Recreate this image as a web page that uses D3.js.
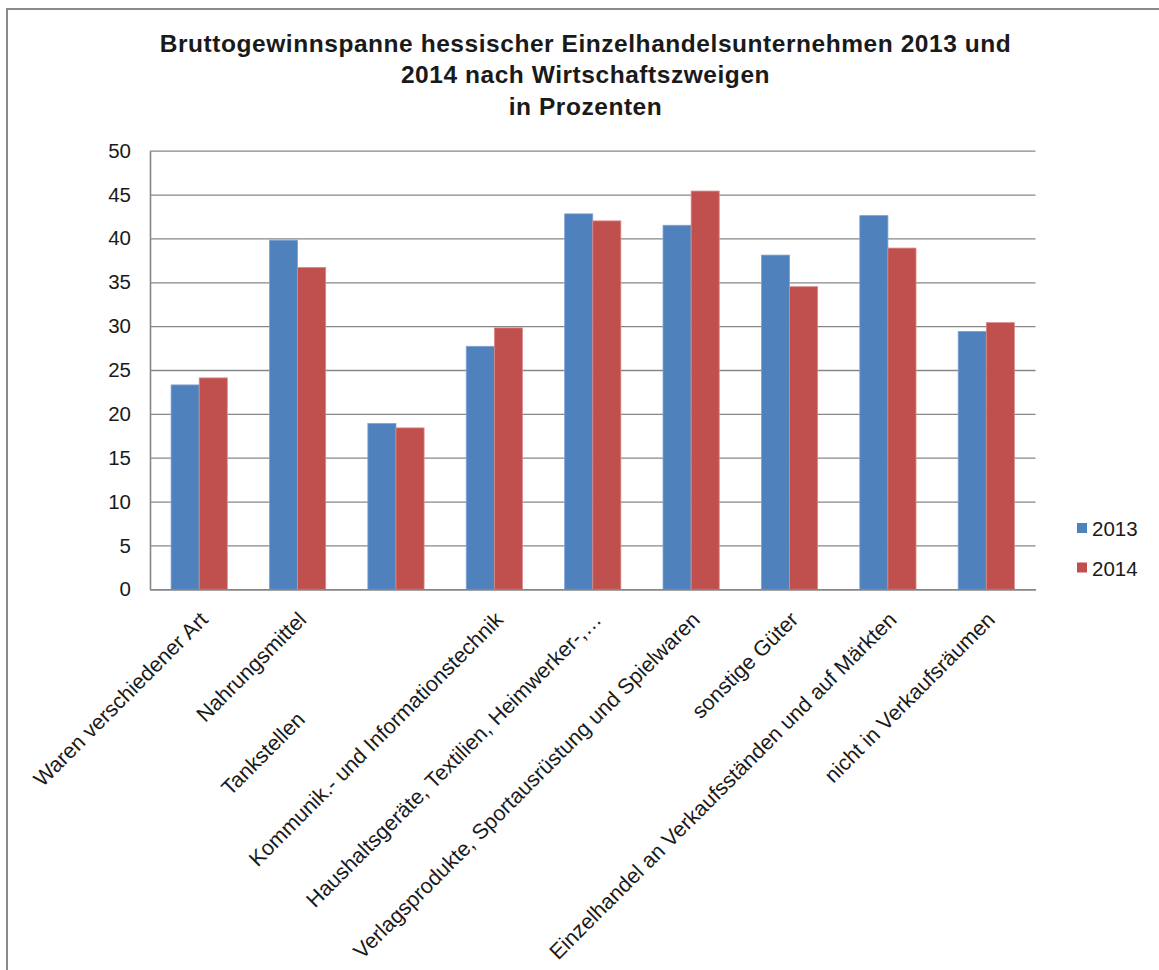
<!DOCTYPE html>
<html>
<head>
<meta charset="utf-8">
<script src="https://cdn.jsdelivr.net/npm/d3@7"></script>
<style>
  html, body { margin: 0; padding: 0; background: #fff; }
  svg { display: block; font-family: "Liberation Sans", Arial, sans-serif; }
</style>
</head>
<body>
<svg id="chart" width="1159" height="970"></svg>
<script>
const titleLines = [
  "Bruttogewinnspanne hessischer Einzelhandelsunternehmen 2013 und",
  "2014 nach Wirtschaftszweigen",
  "in Prozenten"
];
const categories = [
  "Waren verschiedener Art",
  "Nahrungsmittel",
  "Tankstellen",
  "Kommunik.- und Informationstechnik",
  "Haushaltsgeräte, Textilien, Heimwerker-,…",
  "Verlagsprodukte, Sportausrüstung und Spielwaren",
  "sonstige Güter",
  "Einzelhandel an Verkaufsständen und auf Märkten",
  "nicht in Verkaufsräumen"
];
const seriesNames = ["2013", "2014"];
const values2013 = [23.3, 39.8, 18.9, 27.7, 42.8, 41.5, 38.1, 42.6, 29.4];
const values2014 = [24.1, 36.7, 18.4, 29.8, 42.0, 45.4, 34.5, 38.9, 30.4];
const yTicks = [0, 5, 10, 15, 20, 25, 30, 35, 40, 45, 50];

const colors = { "2013": "#4F81BD", "2014": "#C0504D" };
const edge = { "2013": "#7FA2D3", "2014": "#D98C8A" };

const svg = d3.select("#chart");

// outer chart border (right/bottom run off the picture)
svg.append("rect")
  .attr("x", 7).attr("y", 9)
  .attr("width", 1200).attr("height", 1100)
  .attr("fill", "none").attr("stroke", "#8a8a8a").attr("stroke-width", 2);

const plot = { left: 150, right: 1035.5, top: 150.7, bottom: 589.3 };

const y = d3.scaleLinear().domain([0, 50]).range([plot.bottom, plot.top]);
const x0 = d3.scaleBand().domain(categories)
  .range([plot.left, plot.right])
  .paddingInner(0.75 / 1.75).paddingOuter(0.75 / 3.5);
const x1 = d3.scaleBand().domain(seriesNames).range([0, x0.bandwidth()]).padding(0);

// gridlines
const grid = svg.append("g")
  .attr("transform", `translate(${plot.left},0)`)
  .call(d3.axisRight(y).tickValues(yTicks).tickSize(plot.right - plot.left).tickFormat(""));
grid.select(".domain").remove();
grid.selectAll(".tick line").attr("stroke", "#878787").attr("stroke-width", 1.3);

// bars
const rows = categories.map((c, i) => ({ cat: c, vals: [
  { s: "2013", v: values2013[i] }, { s: "2014", v: values2014[i] } ] }));

const groups = svg.append("g").selectAll("g").data(rows).join("g")
  .attr("transform", d => `translate(${x0(d.cat)},0)`);
groups.selectAll("rect").data(d => d.vals).join("rect")
  .attr("x", d => x1(d.s))
  .attr("width", x1.bandwidth())
  .attr("y", d => y(d.v))
  .attr("height", d => y(0) - y(d.v))
  .attr("fill", d => colors[d.s])
  .attr("stroke", d => edge[d.s])
  .attr("stroke-width", 0.8);

// y axis
const yAxis = svg.append("g")
  .attr("transform", `translate(${plot.left},0)`)
  .call(d3.axisLeft(y).tickValues(yTicks).tickSize(0).tickPadding(19));
yAxis.select(".domain").attr("stroke", "#868686").attr("stroke-width", 1.6);
yAxis.selectAll(".tick text")
  .attr("font-size", "20.5px").attr("fill", "#1a1a1a")
  .attr("font-family", "Liberation Sans, Arial, sans-serif");

// x axis
const xAxis = svg.append("g")
  .attr("transform", `translate(0,${plot.bottom})`)
  .call(d3.axisBottom(x0).tickSize(0).tickFormat(""));
xAxis.select(".domain").attr("stroke", "#868686").attr("stroke-width", 1.6);

// category labels, rotated -45°
const labelShift = { "Tankstellen": -141 };
svg.append("g").selectAll("text").data(categories).join("text")
  .attr("transform", d => `translate(${x0(d) + x0.bandwidth() / 2 + 10},621) rotate(-45)`)
  .attr("dx", d => labelShift[d] || 0)
  .attr("text-anchor", "end")
  .attr("font-size", "21.5px")
  .attr("fill", "#1a1a1a")
  .text(d => d);

// title
const titleBaselines = [51.5, 83.3, 115];
svg.append("g").selectAll("text").data(titleLines).join("text")
  .attr("x", 585.5)
  .attr("y", (d, i) => titleBaselines[i])
  .attr("text-anchor", "middle")
  .attr("font-size", "24.5px")
  .attr("font-weight", "bold")
  .attr("letter-spacing", "0.55px")
  .attr("fill", "#1a1a1a")
  .text(d => d);

// legend
const legend = svg.append("g").selectAll("g").data(seriesNames).join("g")
  .attr("transform", (d, i) => `translate(1077,${523 + i * 39.5})`);
legend.append("rect")
  .attr("width", 10).attr("height", 10)
  .attr("fill", d => colors[d]);
legend.append("text")
  .attr("x", 15).attr("y", 13)
  .attr("font-size", "20.5px").attr("fill", "#1a1a1a")
  .text(d => d);
</script>
</body>
</html>
